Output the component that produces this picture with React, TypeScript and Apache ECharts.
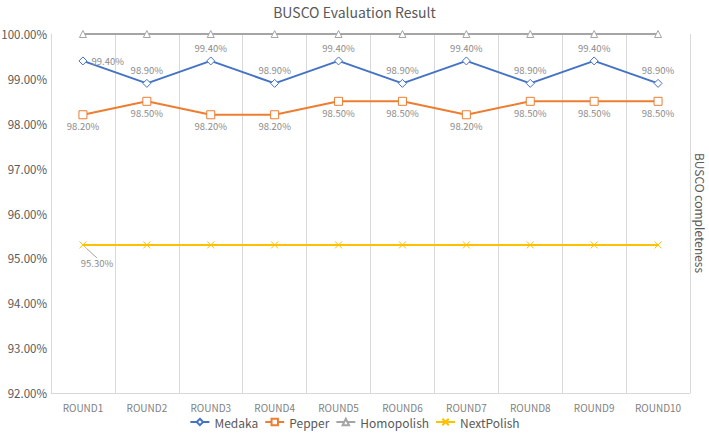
import React, { useEffect, useRef } from "react";
import * as echarts from "echarts";

const categories = ["ROUND1", "ROUND2", "ROUND3", "ROUND4", "ROUND5", "ROUND6", "ROUND7", "ROUND8", "ROUND9", "ROUND10"];
const medaka = [99.4, 98.9, 99.4, 98.9, 99.4, 98.9, 99.4, 98.9, 99.4, 98.9];
const pepper = [98.2, 98.5, 98.2, 98.2, 98.5, 98.5, 98.2, 98.5, 98.5, 98.5];
const homopolish = [100, 100, 100, 100, 100, 100, 100, 100, 100, 100];
const nextPolish = [95.3, 95.3, 95.3, 95.3, 95.3, 95.3, 95.3, 95.3, 95.3, 95.3];

const FONT = "'Noto Sans CJK KR', 'Noto Sans', sans-serif";
const LABEL_COLOR = "#8c8c8c";
const fmt = (v: number) => v.toFixed(2) + "%";

export default function App() {
  const ref = useRef<HTMLDivElement>(null);
  useEffect(() => {
    if (!ref.current) return;
    const chart = echarts.init(ref.current, undefined, { renderer: "svg" });
    const labelBase = {
      show: true,
      color: LABEL_COLOR,
      fontSize: 9.5,
      fontFamily: FONT,
      formatter: (p: any) => fmt(p.value),
    };
    chart.setOption({
      animation: false,
      backgroundColor: "#ffffff",
      textStyle: { fontFamily: FONT },
      title: {
        text: "BUSCO Evaluation Result",
        left: "center",
        top: 0,
        textStyle: { fontSize: 14, fontWeight: "normal", color: "#595959", fontFamily: FONT },
      },
      legend: {
        bottom: 0,
        left: "center",
        itemWidth: 19,
        itemHeight: 8,
        itemGap: 6,
        textStyle: { fontSize: 12, color: "#595959", fontFamily: FONT },
        data: ["Medaka", "Pepper", "Homopolish", "NextPolish"],
      },
      grid: { left: 51, right: 19, top: 34, bottom: 40, containLabel: false, outerBoundsMode: "none" },
      xAxis: {
        type: "category",
        data: categories,
        boundaryGap: true,
        axisLine: { lineStyle: { color: "#d9d9d9" } },
        axisTick: { show: false },
        axisLabel: { color: "#7f7f7f", fontSize: 10, fontFamily: FONT, margin: 9 },
        splitLine: { show: true, lineStyle: { color: "#d9d9d9" } },
      },
      yAxis: {
        type: "value",
        min: 92,
        max: 100,
        interval: 1,
        axisLine: { show: true, lineStyle: { color: "#d9d9d9" } },
        axisTick: { show: false },
        splitLine: { show: false },
        axisLabel: { color: "#595959", fontSize: 11.5, fontFamily: FONT, formatter: (v: number) => fmt(v), margin: 4 },
      },
      graphic: [
        {
          type: "text",
          x: 707,
          y: 213,
          rotation: -Math.PI / 2,
          style: {
            text: "BUSCO completeness",
            fill: "#595959",
            fontSize: 12,
            fontFamily: FONT,
            align: "center",
            verticalAlign: "top",
          },
        },
      ],
      series: [
        {
          name: "Homopolish",
          type: "line",
          data: homopolish,
          color: "#A5A5A5",
          symbol: "triangle",
          symbolSize: 7,
          showSymbol: true,
          itemStyle: { color: "#ffffff", borderColor: "#A5A5A5", borderWidth: 1 },
          lineStyle: { width: 2, color: "#A5A5A5" },
          z: 2,
        },
        {
          name: "NextPolish",
          type: "line",
          data: nextPolish.map((v, i) =>
            i === 0
              ? { value: v, label: { ...labelBase, position: "bottom", distance: 6 } }
              : { value: v }
          ),
          color: "#FFC000",
          symbol: "path://M0,0L10,10M10,0L0,10",
          symbolSize: 7,
          itemStyle: { color: "#FFC000", borderColor: "#FFC000", borderWidth: 1 },
          lineStyle: { width: 2, color: "#FFC000" },
          label: { show: false },
          labelLine: { show: true, lineStyle: { color: "#a6a6a6", width: 1 } },
          labelLayout: () => ({ dx: 14, dy: 3 }),
          z: 3,
        },
        {
          name: "Pepper",
          type: "line",
          data: pepper,
          color: "#ED7D31",
          symbol: "rect",
          symbolSize: 8,
          itemStyle: { color: "#ffffff", borderColor: "#ED7D31", borderWidth: 1 },
          lineStyle: { width: 2, color: "#ED7D31" },
          label: { ...labelBase, position: "bottom", distance: 2 },
          z: 4,
        },
        {
          name: "Medaka",
          type: "line",
          data: medaka.map((v, i) =>
            i === 0 ? { value: v, label: { ...labelBase, position: "right", distance: 4 } } : { value: v }
          ),
          color: "#4472C4",
          symbol: "diamond",
          symbolSize: 8,
          itemStyle: { color: "#ffffff", borderColor: "#4472C4", borderWidth: 1 },
          lineStyle: { width: 2, color: "#4472C4" },
          label: { ...labelBase, position: "top", distance: 4 },
          z: 5,
        },
      ],
    });
    return () => chart.dispose();
  }, []);
  return <div ref={ref} style={{ width: 709, height: 433, position: "absolute", left: 0, top: 0 }} />;
}
